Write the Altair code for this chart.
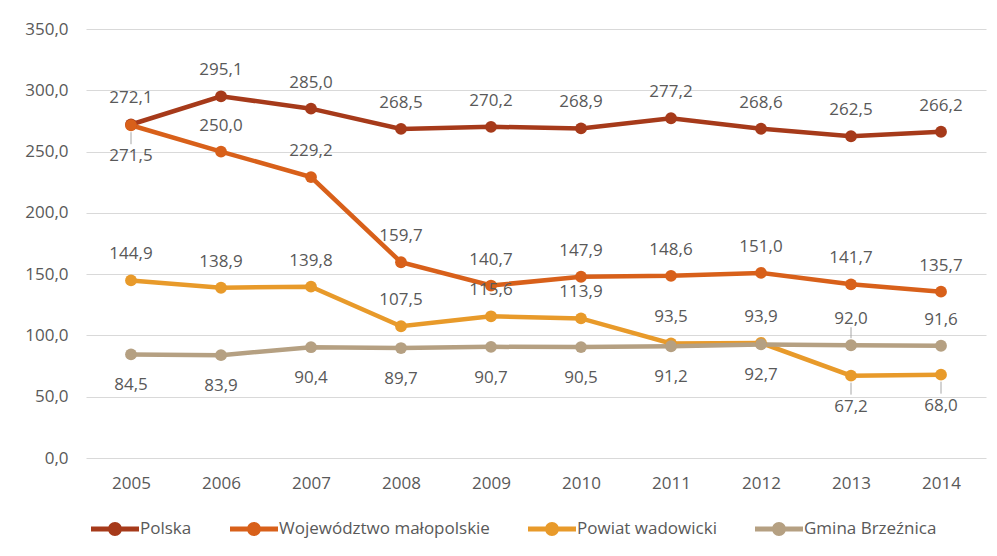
import altair as alt
import pandas as pd

years = ["2005", "2006", "2007", "2008", "2009", "2010", "2011", "2012", "2013", "2014"]
series_names = ["Polska", "Województwo małopolskie", "Powiat wadowicki", "Gmina Brzeźnica"]
colors = ["#A63A1A", "#D8601A", "#E89A2A", "#B5A082"]

polska = [272.1, 295.1, 285.0, 268.5, 270.2, 268.9, 277.2, 268.6, 262.5, 266.2]
wojewodztwo = [271.5, 250.0, 229.2, 159.7, 140.7, 147.9, 148.6, 151.0, 141.7, 135.7]
powiat = [144.9, 138.9, 139.8, 107.5, 115.6, 113.9, 93.5, 93.9, 67.2, 68.0]
gmina = [84.5, 83.9, 90.4, 89.7, 90.7, 90.5, 91.2, 92.7, 92.0, 91.6]

# label placement: a = above, b = below
polska_pos = ["a"] * 10
wojewodztwo_pos = ["b"] + ["a"] * 9
powiat_pos = ["a"] * 8 + ["b", "b"]
gmina_pos = ["b"] * 8 + ["a", "a"]

# leader lines to labels
polska_lead = [0] * 10
wojewodztwo_lead = [1] + [0] * 9
powiat_lead = [0] * 8 + [1, 1]
gmina_lead = [0] * 8 + [1, 0]

rows = []
for name, vals, pos, lead in zip(
    series_names,
    [polska, wojewodztwo, powiat, gmina],
    [polska_pos, wojewodztwo_pos, powiat_pos, gmina_pos],
    [polska_lead, wojewodztwo_lead, powiat_lead, gmina_lead],
):
    for y, v, p, l in zip(years, vals, pos, lead):
        rows.append({"year": y, "series": name, "value": v, "pos": p, "lead": l,
                     "order": series_names.index(name)})
df = pd.DataFrame(rows)

FONT = "Open Sans"
TXT = "#595959"

x = alt.X("year:N", sort=years, scale=alt.Scale(type="point", padding=0.5),
          axis=alt.Axis(title=None, labelAngle=0, domain=False, ticks=False, grid=False,
                        labelPadding=17, labelFontSize=17, labelColor=TXT, labelFont=FONT))
y = alt.Y("value:Q", scale=alt.Scale(domain=[0, 350], nice=False),
          axis=alt.Axis(title=None, values=[0, 50, 100, 150, 200, 250, 300, 350],
                        domain=False, ticks=False, labelPadding=18,
                        labelFontSize=17, labelColor=TXT, labelFont=FONT,
                        gridColor="#D9D9D9", gridWidth=1,
                        labelExpr="replace(format(datum.value, '.1f'), '.', ',')"))

legend_path = ("M-1,-0.1 L1,-0.1 L1,0.1 L-1,0.1 Z "
               "M0.29,0 A0.29,0.29 0 1,1 -0.29,0 A0.29,0.29 0 1,1 0.29,0 Z")

color = alt.Color("series:N", scale=alt.Scale(domain=series_names, range=colors),
                  legend=alt.Legend(title=None, orient="none", direction="horizontal",
                                    legendX=5, legendY=476,
                                    symbolType=legend_path, symbolSize=2304,
                                    symbolStrokeWidth=0, labelOffset=1, labelLimit=0,
                                    columnPadding=38, labelFontSize=17,
                                    labelColor=TXT, labelFont=FONT))

base = alt.Chart(df)

lines = base.mark_line(strokeWidth=4.5).encode(x=x, y=y, color=color, detail="series:N",
                                               order=alt.Order("year:N"))
points = base.mark_point(filled=True, size=140, opacity=1).encode(
    x=x, y=y, color=color, order=alt.Order("order:Q"))

label_calc = "replace(format(datum.value, '.1f'), '.', ',')"

above = base.transform_filter("datum.pos == 'a'").transform_calculate(lbl=label_calc).mark_text(
    dy=-26, fontSize=17, font=FONT, color=TXT).encode(x=x, y=y, text="lbl:N")
below = base.transform_filter("datum.pos == 'b'").transform_calculate(lbl=label_calc).mark_text(
    dy=31, fontSize=17, font=FONT, color=TXT).encode(x=x, y=y, text="lbl:N")

lead_below = base.transform_filter("datum.lead == 1 && datum.pos == 'b'").mark_rule(
    color="#A6A6A6", strokeWidth=1, yOffset=7, y2Offset=19).encode(x=x, y=y, y2="value:Q")
lead_above = base.transform_filter("datum.lead == 1 && datum.pos == 'a'").mark_rule(
    color="#A6A6A6", strokeWidth=1, yOffset=-18, y2Offset=-7).encode(x=x, y=y, y2="value:Q")

chart = alt.layer(lead_below, lead_above, lines, points, above, below).properties(
    width=900, height=429,
    background="white",
    autosize=alt.AutoSizeParams(type="none"),
    padding={"left": 78, "top": 21, "right": 3, "bottom": 90},
).configure_view(stroke=None)

chart.save("out.html", embed_options={"renderer": "svg", "actions": False})
